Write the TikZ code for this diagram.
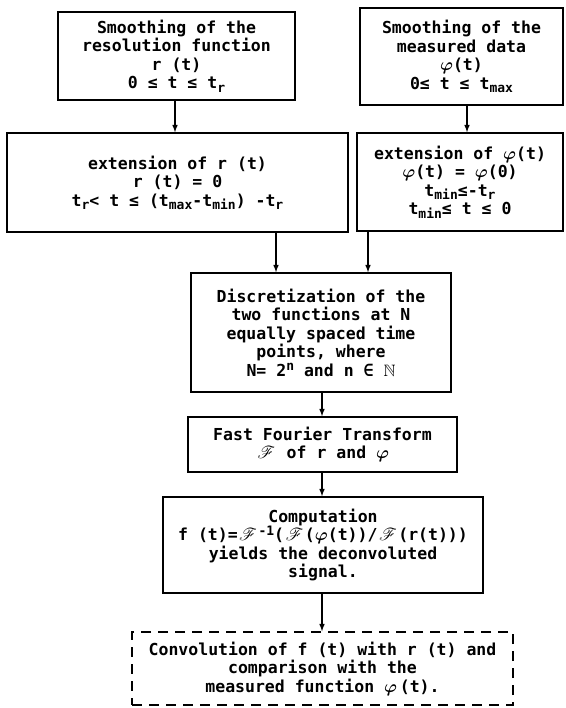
\documentclass[tikz,border=0pt]{standalone}
\usepackage{amsmath,amssymb,mathrsfs}
\usepackage{fontspec}
\setmainfont{DejaVu Sans Mono}
\usetikzlibrary{arrows,positioning}

\newcommand{\lo}[1]{\raisebox{-0.35ex}{\fontsize{13}{13}\selectfont #1}}
\newcommand{\hi}[1]{\raisebox{0.6ex}{\fontsize{13}{13}\selectfont #1}}
\newcommand{\Fop}{\mbox{\kern1.5pt$\mathscr{F}$\kern1.5pt}}
\newcommand{\ph}{$\boldsymbol{\varphi}$}

\begin{document}
\begin{tikzpicture}[x=1pt, y=-1pt,
	basic/.style  = {draw, line width=1.5pt, rectangle, align=center, inner sep=0pt,
		font=\fontsize{16.5}{18.5}\selectfont\bfseries},
	dashbox/.style = {basic, dash pattern=on 10pt off 7pt},
	flow/.style   = {->, line width=1.5pt},
	>=latex]

	\useasboundingbox (0,0) rectangle (565,708);

	% the two smoothing steps on top
	\node[basic, minimum width=237pt, minimum height=88pt] (smr) at (176.5,56)
		{Smoothing of the\\resolution function\\r (t)\\0 ≤ t ≤ t\lo{r}};
	\node[basic, minimum width=203pt, minimum height=97pt] (smp) at (461.5,56.5)
		{Smoothing of the\\measured data\\\ph(t)\\0≤ t ≤ t\lo{max}};

	% extension of both functions
	\node[basic, minimum width=341pt, minimum height=99pt] (exr) at (177.5,182.5)
		{extension of r (t)\\r (t) = 0\\t\lo{r}< t ≤ (t\lo{max}-t\lo{min}) -t\lo{r}};
	\node[basic, minimum width=206pt, minimum height=98pt] (exp) at (460,182)
		{extension of \ph(t)\\\ph(t) = \ph(0)\\t\lo{min}≤-t\lo{r}\\t\lo{min}≤ t ≤ 0};

	% the middle column
	\node[basic, minimum width=260pt, minimum height=119pt] (disc) at (321,332.5)
		{Discretization of the\\two functions at N\\equally spaced time\\points, where\\N= 2\hi{n} and n ∈ $\mathbb{N}$};
	\node[basic, minimum width=269pt, minimum height=55pt] (fft) at (322.5,444.5)
		{Fast Fourier Transform\\\Fop\ of r and \ph};
	\node[basic, minimum width=320pt, minimum height=96pt] (comp) at (323,545)
		{Computation\\f (t)=\Fop\hi{-1}(\Fop(\ph(t))/\Fop(r(t)))\\yields the deconvoluted\\signal.};
	\node[dashbox, minimum width=381pt, minimum height=73pt] (conv) at (322.5,668.5)
		{Convolution of f (t) with r (t) and\\comparison with the\\measured function \ph\,(t).};

	% connections
	\draw[flow] (smr.south -| 175,0) -- (exr.north -| 175,0);
	\draw[flow] (smp.south -| 467,0) -- (exp.north -| 467,0);
	\draw[flow] (exr.south -| 276,0) -- (disc.north -| 276,0);
	\draw[flow] (exp.south -| 368,0) -- (disc.north -| 368,0);
	\draw[flow] (disc.south -| 322,0) -- (fft.north -| 322,0);
	\draw[flow] (fft.south -| 322,0) -- (comp.north -| 322,0);
	\draw[flow] (comp.south -| 322,0) -- (conv.north -| 322,0);

\end{tikzpicture}
\end{document}
